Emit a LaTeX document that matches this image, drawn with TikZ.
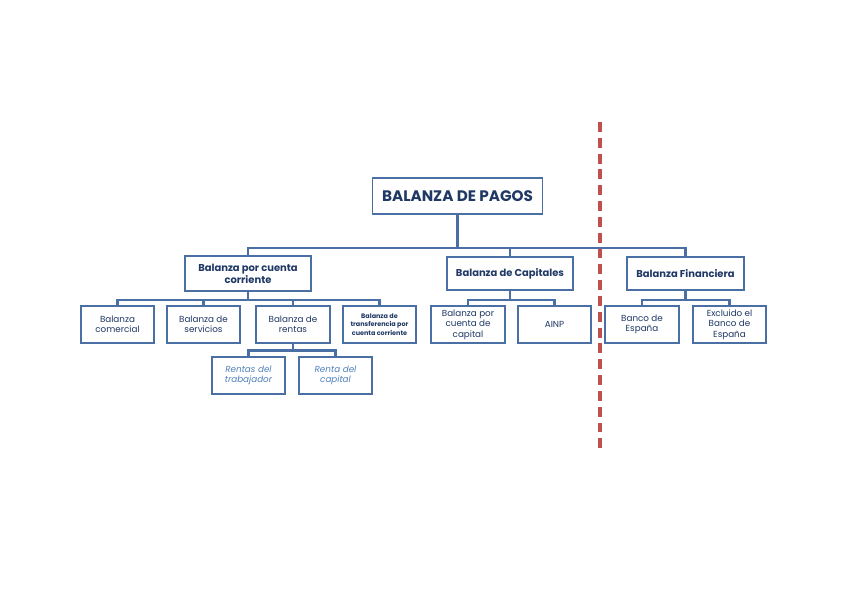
\documentclass[tikz,border=0pt]{standalone}
\usepackage{fontspec}
\setmainfont{Poppins}
\usepackage{tikz}
\definecolor{boxline}{HTML}{4A6FA5}
\definecolor{boxtext}{HTML}{1F3864}
\definecolor{softtext}{HTML}{4F81BD}
\definecolor{cutline}{HTML}{C0504D}

\begin{document}
\begin{tikzpicture}[x=0.03cm,y=-0.03cm,
    cajabox/.style={draw=boxline,line width=1.6pt,fill=white,align=center,text=boxtext,inner sep=1pt},
    hoja/.style={cajabox,minimum width=2.2cm,minimum height=1.1cm,font=\fontsize{7.5}{9}\selectfont},
    rama/.style={cajabox,minimum height=1cm,font=\bfseries\fontsize{8.5}{10}\selectfont},
    enlace/.style={draw=boxline,line width=2.2pt}]
    \useasboundingbox (0,0) rectangle (848,599);
    % raiz
    \node[cajabox,minimum width=5.1cm,minimum height=1.08cm,font=\bfseries\fontsize{13}{15}\selectfont] (bp) at (457.5,196) {BALANZA DE PAGOS};
    % segundo nivel
    \node[rama,minimum width=3.78cm,minimum height=1.05cm] (cc) at (248,273.5) {Balanza por cuenta\\corriente};
    \node[rama,minimum width=3.78cm] (cap) at (510,273.5) {Balanza de Capitales};
    \node[rama,minimum width=3.5cm] (fin) at (685.5,273.5) {Balanza Financiera};
    % tercer nivel
    \node[hoja] (com) at (117.5,324.5) {Balanza\\comercial};
    \node[hoja] (ser) at (203.5,324.5) {Balanza de\\servicios};
    \node[hoja] (ren) at (293,324.5) {Balanza de\\rentas};
    \node[hoja,font=\bfseries\fontsize{5.5}{7}\selectfont] (tra) at (379.5,324.5) {Balanza de\\transferencia por\\cuenta corriente};
    \node[hoja] (bcc) at (468,324.5) {Balanza por\\cuenta de\\capital};
    \node[hoja] (ainp) at (554.5,324.5) {AINP};
    \node[hoja] (be) at (642,324.5) {Banco de\\España};
    \node[hoja] (exc) at (729.5,324.5) {Excluido el\\Banco de\\España};
    % cuarto nivel
    \node[hoja,text=softtext,font=\itshape\fontsize{7.5}{9}\selectfont] (tb) at (248.5,375.5) {Rentas del\\trabajador};
    \node[hoja,text=softtext,font=\itshape\fontsize{7.5}{9}\selectfont] (kp) at (335.5,375.5) {Renta del\\capital};
    % conexiones
    \foreach \hijo in {cc,cap,fin}
      \draw[enlace] (bp.south) -- ++(0,33) -| (\hijo.north);
    \foreach \hijo in {com,ser,ren,tra}
      \draw[enlace] (cc.south) -- ++(0,8) -| (\hijo.north);
    \foreach \hijo in {bcc,ainp}
      \draw[enlace] (cap.south) -- ++(0,9) -| (\hijo.north);
    \foreach \hijo in {be,exc}
      \draw[enlace] (fin.south) -- ++(0,9) -| (\hijo.north);
    \foreach \hijo in {tb,kp}
      \draw[enlace] (ren.south) -- ++(0,7) -| (\hijo.north);
    % separacion
    \coordinate (cortea) at (600,122);
    \coordinate (corteb) at (600,450);
    \draw[cutline,line width=3pt,dash pattern=on 8.5pt off 5pt] (cortea) -- (corteb);
  \end{tikzpicture}
\end{document}
